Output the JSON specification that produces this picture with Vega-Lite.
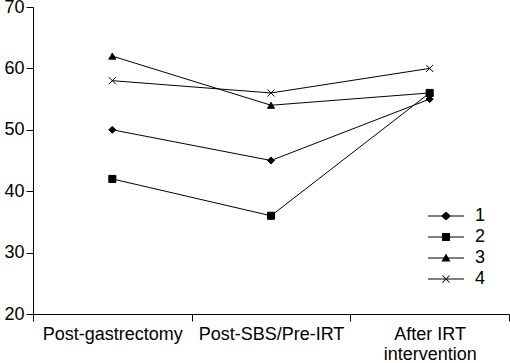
{
  "$schema": "https://vega.github.io/schema/vega-lite/v6.json",
  "width": 476,
  "height": 307,
  "autosize": {"type": "none"},
  "padding": {"left": 33, "top": 7, "right": 1, "bottom": 49},
  "background": "white",
  "config": {
    "font": "Liberation Sans",
    "view": {"stroke": null},
    "axis": {"domainColor": "black", "tickColor": "black", "labelColor": "black", "grid": false, "labelFontSize": 18, "title": null}
  },
  "data": {
    "values": [
      {"stage": "Post-gastrectomy", "series": "1", "value": 50},
      {"stage": "Post-SBS/Pre-IRT", "series": "1", "value": 45},
      {"stage": "After IRT intervention", "series": "1", "value": 55},
      {"stage": "Post-gastrectomy", "series": "2", "value": 42},
      {"stage": "Post-SBS/Pre-IRT", "series": "2", "value": 36},
      {"stage": "After IRT intervention", "series": "2", "value": 56},
      {"stage": "Post-gastrectomy", "series": "3", "value": 62},
      {"stage": "Post-SBS/Pre-IRT", "series": "3", "value": 54},
      {"stage": "After IRT intervention", "series": "3", "value": 56},
      {"stage": "Post-gastrectomy", "series": "4", "value": 58},
      {"stage": "Post-SBS/Pre-IRT", "series": "4", "value": 56},
      {"stage": "After IRT intervention", "series": "4", "value": 60}
    ]
  },
  "encoding": {
    "x": {
      "field": "stage", "type": "nominal",
      "sort": ["Post-gastrectomy", "Post-SBS/Pre-IRT", "After IRT intervention"],
      "scale": {"paddingInner": 0, "paddingOuter": 0},
      "axis": {"labelAngle": 0, "tickBand": "extent", "tickSize": 7, "labelPadding": 4, "labelLineHeight": 20,
        "labelExpr": "datum.label == 'After IRT intervention' ? ['After IRT', 'intervention'] : datum.label"}
    },
    "y": {
      "field": "value", "type": "quantitative",
      "scale": {"domain": [20, 70], "nice": false, "zero": false},
      "axis": {"values": [20, 30, 40, 50, 60, 70], "tickSize": 7, "labelPadding": 2}
    }
  },
  "layer": [
    {
      "mark": {"type": "line", "color": "black", "strokeWidth": 1},
      "encoding": {"detail": {"field": "series"}}
    },
    {
      "mark": {"type": "point", "filled": true, "color": "black", "stroke": "black", "strokeWidth": 1, "opacity": 1, "size": 50},
      "encoding": {
        "shape": {
          "field": "series", "type": "nominal",
          "scale": {"domain": ["1", "2", "3", "4"], "range": ["diamond", "square", "triangle-up", "M-1,-1L1,1M-1,1L1,-1"]},
          "legend": null
        }
      }
    },
    {
      "transform": [{"filter": "false"}],
      "mark": {"type": "point", "filled": true, "color": "black", "opacity": 1},
      "encoding": {
        "shape": {
          "field": "series", "type": "nominal",
          "scale": {"domain": ["1", "2", "3", "4"], "range": [
            "M-1.8,-0.05H1.8V0.05H-1.8ZM0,-0.45L0.5,0L0,0.45L-0.5,0Z",
            "M-1.8,-0.05H1.8V0.05H-1.8ZM-0.4,-0.4H0.4V0.4H-0.4Z",
            "M-1.8,-0.05H1.8V0.05H-1.8ZM0,-0.45L0.45,0.35L-0.45,0.35Z",
            "M-1.8,-0.05H1.8V0.05H-1.8ZM-0.315,-0.385L0.385,0.315L0.315,0.385L-0.385,-0.315ZM-0.315,0.385L0.385,-0.315L0.315,-0.385L-0.385,0.315Z"
          ]},
          "legend": {
            "title": null, "orient": "none", "legendX": 403, "legendY": 199,
            "symbolSize": 400, "labelFontSize": 18, "labelColor": "black", "rowPadding": 2, "labelOffset": 19,
            "symbolFillColor": "black", "symbolStrokeColor": "transparent", "symbolStrokeWidth": 0, "symbolOpacity": 1
          }
        }
      }
    }
  ],
  "resolve": {"scale": {"shape": "independent"}}
}
